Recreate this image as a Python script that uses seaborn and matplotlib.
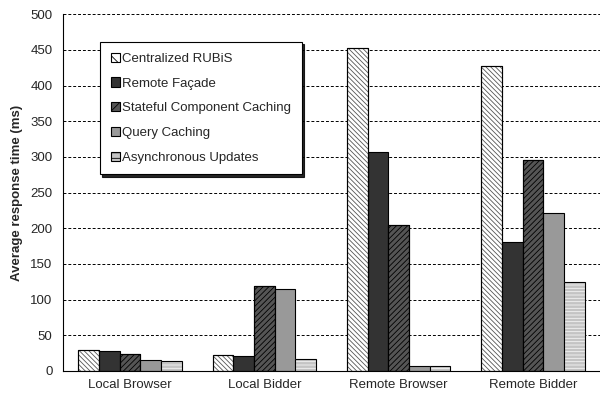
import numpy as np
import pandas as pd
import matplotlib
matplotlib.use("Agg")
import matplotlib.pyplot as plt
from matplotlib.patches import Rectangle
import seaborn as sns

# ── Data ─────────────────────────────────────────────────────────────────────
categories = ["Local Browser", "Local Bidder", "Remote Browser", "Remote Bidder"]
series = ["Centralized RUBiS", "Remote Façade", "Stateful Component Caching",
          "Query Caching", "Asynchronous Updates"]
centralized = [30, 23, 452, 427]
remote_facade = [28, 21, 307, 181]
stateful = [24, 119, 205, 296]
query = [15, 115, 7, 221]
async_upd = [14, 17, 7, 125]

values = [centralized, remote_facade, stateful, query, async_upd]
rows = []
for s, vals in zip(series, values):
    for c, v in zip(categories, vals):
        rows.append({"scenario": c, "config": s, "ms": v})
df = pd.DataFrame(rows)

# ── Style ─────────────────────────────────────────────────────────────────────
sns.set_style("white")
plt.rcParams["font.family"] = ["Liberation Sans", "DejaVu Sans"]
plt.rcParams["hatch.linewidth"] = 0.6

faces = ["white", "#333333", "#555555", "#999999", "#c4c4c4"]
hatches = ["\\" * 7, None, "/" * 6, None, "-" * 5]
hcolors = ["#555555", "black", "black", "black", "#f4f4f4"]
FS = 9.5

fig = plt.figure(figsize=(6.0, 4.05), dpi=100)
ax = fig.add_axes([0.105, 0.084, 0.895, 0.881])

sns.barplot(data=df, x="scenario", y="ms", hue="config", order=categories,
            hue_order=series, palette=faces, width=0.77, saturation=1,
            edgecolor="black", linewidth=0.8, ax=ax)


def style_patch(p, h, hc, axes=None):
    # hatch colour follows edge colour, so paint hatch via edge then re-outline
    if h:
        p.set_hatch(h)
        p.set_edgecolor(hc)
        if axes is not None:
            axes.add_patch(Rectangle(p.get_xy(), p.get_width(), p.get_height(),
                                     fill=False, edgecolor="black", linewidth=0.8,
                                     zorder=p.get_zorder() + 0.1))
    else:
        p.set_edgecolor("black")


for cont, h, hc in zip(ax.containers, hatches, hcolors):
    for p in cont:
        style_patch(p, h, hc, ax)

ax.set_ylim(0, 500)
ax.set_yticks(np.arange(0, 501, 50))
ax.set_xlim(-0.5, 3.5)
ax.yaxis.grid(True, linestyle=(0, (3, 2)), color="black", linewidth=0.7)
ax.set_axisbelow(True)
for sp in ["top", "right"]:
    ax.spines[sp].set_visible(False)
for sp in ["left", "bottom"]:
    ax.spines[sp].set_color("black")
    ax.spines[sp].set_linewidth(0.8)

ax.set_xticks([-0.5, 0.5, 1.5, 2.5, 3.5], minor=True)
ax.tick_params(axis="x", which="major", length=0, labelsize=FS, pad=6)
ax.tick_params(axis="x", which="minor", length=4, direction="out", color="black")
ax.tick_params(axis="y", length=4, direction="out", labelsize=FS, color="black")
ax.set_xlabel("")
ax.set_ylabel("Average response time (ms)", fontsize=FS, fontweight="bold", labelpad=5)

leg = ax.legend(loc="upper left", bbox_to_anchor=(0.069, 0.922), borderaxespad=0,
                fontsize=FS, frameon=True, fancybox=False,
                shadow={"color": "black", "alpha": 0.85, "ox": 1.5, "oy": -1.5},
                edgecolor="black", framealpha=1, handlelength=0.7, handleheight=0.7,
                handletextpad=0.2, labelspacing=0.95, borderpad=0.8)
leg.get_frame().set_linewidth(0.8)
for hnd, face, h in zip(leg.legend_handles, faces, hatches):
    hnd.set_facecolor(face)
    hnd.set_linewidth(0.8)
    hnd.set_edgecolor("black")
    if h:
        hnd.set_hatch(h[:3])

fig.savefig("out.png", dpi=100, facecolor="white")
